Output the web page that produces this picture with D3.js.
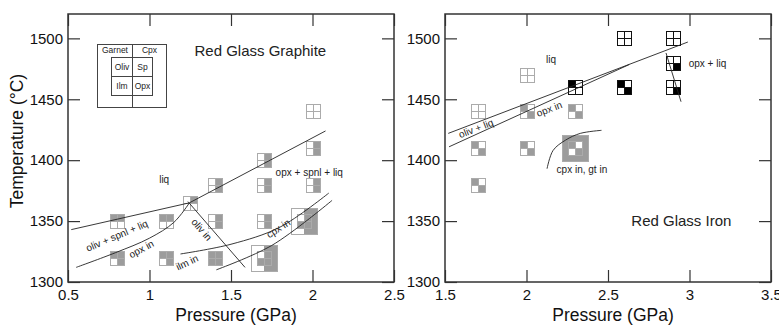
<!DOCTYPE html>
<html>
<head>
<meta charset="utf-8">
<script src="https://cdnjs.cloudflare.com/ajax/libs/d3/7.8.5/d3.min.js"></script>
<style>
  body { margin: 0; background: #fff; }
  svg { display: block; }
</style>
</head>
<body>
<svg id="chart"></svg>
<script>
// AXIS TICKS
const tempTicks = [1300, 1350, 1400, 1450, 1500]
const graphitePressureTicks = [0.5, 1, 1.5, 2, 2.5]
const ironPressureTicks = [1.5, 2, 2.5, 3, 3.5]

// RUNS: [pressure GPa, temperature C, phases present]
const graphiteRuns = [
    [0.8, 1350, 'ol sp'],
    [1.1, 1350, 'ol sp'],
    [0.8, 1320, 'ol sp opx'],
    [1.1, 1320, 'ol sp opx'],
    [1.25, 1365, 'sp'],
    [1.4, 1380, 'sp opx'],
    [1.4, 1350, 'sp opx'],
    [1.4, 1320, 'ol sp ilm opx'],
    [1.7, 1400, 'sp opx'],
    [1.7, 1380, 'sp opx'],
    [1.7, 1350, 'sp opx'],
    [1.7, 1320, 'sp ilm opx cpx'],
    [2.0, 1440, ''],
    [2.0, 1410, 'sp opx'],
    [2.0, 1380, 'sp opx'],
    [1.95, 1350, 'sp ilm opx cpx']
]
const ironRunsGray = [
    [1.7, 1440, ''],
    [2.0, 1470, ''],
    [2.0, 1440, 'ol opx'],
    [1.7, 1410, 'ol opx'],
    [2.0, 1410, 'ol opx'],
    [1.7, 1380, 'ol opx'],
    [2.3, 1440, 'ol opx'],
    [2.3, 1410, 'ol opx gt cpx']
]
const ironRunsBlack = [
    [2.3, 1460, 'ol'],
    [2.6, 1460, 'ol opx'],
    [2.6, 1500, ''],
    [2.9, 1500, ''],
    [2.9, 1480, 'opx'],
    [2.9, 1460, 'opx']
]

// PHASE BOUNDARIES
const graphiteLiqLine = [[0.52, 1343], [1.245, 1365], [2.08, 1424]]
const graphiteOpxIn = [[0.55, 1312], [0.79, 1324], [1.0, 1336], [1.15, 1349], [1.245, 1365]]
const graphiteOlivIn = [[1.236, 1366], [1.586, 1312]]
const graphiteIlmIn = [[1.19, 1323], [1.5, 1331], [1.8, 1345], [2.1, 1373]]
const graphiteCpxIn = [[1.41, 1310], [1.75, 1330], [2.12, 1367]]

const ironLiqLine = [[1.52, 1422], [2.99, 1497]]
const ironOpxIn = [[1.525, 1411], [2.63, 1478.5]]
const ironOpxLiq = [[2.856, 1488], [2.948, 1448]]
const ironCpxGtIn = [[2.126, 1393], [2.163, 1408], [2.24, 1416.5], [2.33, 1422], [2.46, 1424.5]]

// LABELS: [text, pressure, temperature, rotation]
const graphiteTitle = ['Red Glass Graphite', 1.68, 1490]
const ironTitle = ['Red Glass Iron', 2.95, 1350]
const graphiteNotes = [
    ['liq', 1.09, 1384, 0],
    ['opx + spnl + liq', 1.98, 1390, 0],
    ['oliv + spnl + liq', 0.80, 1338, -23],
    ['opx in', 0.95, 1327, -28],
    ['oliv in', 1.32, 1343, 49],
    ['ilm in', 1.23, 1316, -25],
    ['cpx in', 1.79, 1344, -33]
]
const ironNotes = [
    ['liq', 2.15, 1483, 0],
    ['oliv + liq', 1.69, 1426, -21],
    ['opx in', 2.14, 1442, -21],
    ['opx + liq', 3.11, 1479, 0],
    ['cpx in, gt in', 2.34, 1392, 0]
]

const FONT = "'Liberation Sans', Arial, Helvetica, sans-serif"
const GRAY = '#9c9c9c'
const GRAY_LINE = '#ababab'

let svg = d3.select('#chart')
    .attr('width', 779)
    .attr('height', 327)

let y = d3.scaleLinear().domain([1300, 1520]).range([282, 14])
let xGraphite = d3.scaleLinear().domain([0.5, 2.5]).range([68, 394])
let xIron = d3.scaleLinear().domain([1.5, 3.5]).range([445, 771])

function styleAxis(g) {
    g.select('.domain').remove()
    g.selectAll('line').attr('stroke', '#333').attr('stroke-width', 1.2)
    g.selectAll('text')
        .attr('font-family', FONT)
        .attr('font-size', 15)
        .attr('fill', '#111')
}

// FRAME + TICKS
function drawFrame(x, xTicks) {
    let [x0, x1] = x.range()
    let [y0, y1] = y.range()

    svg.append('g')
        .attr('transform', `translate(0,${y0})`)
        .call(d3.axisBottom(x).tickValues(xTicks).tickSize(-12).tickPadding(7).tickFormat(d => d))
        .call(styleAxis)
    svg.append('g')
        .attr('transform', `translate(0,${y1})`)
        .call(d3.axisTop(x).tickValues(xTicks).tickSize(-12).tickFormat(''))
        .call(styleAxis)
    svg.append('g')
        .attr('transform', `translate(${x0},0)`)
        .call(d3.axisLeft(y).tickValues(tempTicks).tickSize(-12).tickPadding(5).tickFormat(d => d))
        .call(styleAxis)
    svg.append('g')
        .attr('transform', `translate(${x1},0)`)
        .call(d3.axisRight(y).tickValues(tempTicks).tickSize(-12).tickFormat(''))
        .call(styleAxis)

    svg.append('rect')
        .attr('x', x0)
        .attr('y', y1)
        .attr('width', x1 - x0)
        .attr('height', y0 - y1)
        .attr('fill', 'none')
        .attr('stroke', '#333')
        .attr('stroke-width', 1.5)

    // X AXIS LABEL
    svg.append('text')
        .attr('x', (x0 + x1) / 2 + 5)
        .attr('y', 321)
        .attr('text-anchor', 'middle')
        .attr('font-family', FONT)
        .attr('font-size', 17.5)
        .attr('fill', '#111')
        .text('Pressure (GPa)')
}

// ONE RUN SYMBOL
function drawRun(g, x, run, fill, line) {
    let has = run[2].split(' ')
    let cx = Math.round(x(run[0]))
    let cy = Math.round(y(run[1]))
    let s = g.append('g')
        .attr('transform', `translate(${cx},${cy})`)
        .attr('shape-rendering', 'crispEdges')

    if (has.includes('gt') || has.includes('cpx')) {
        s.append('rect')
            .attr('x', -13).attr('y', -13).attr('width', 13).attr('height', 26)
            .attr('fill', has.includes('gt') ? fill : '#fff')
        s.append('rect')
            .attr('x', 0).attr('y', -13).attr('width', 13).attr('height', 26)
            .attr('fill', has.includes('cpx') ? fill : '#fff')
        s.append('rect')
            .attr('x', -13).attr('y', -13).attr('width', 26).attr('height', 26)
            .attr('fill', 'none')
            .attr('stroke', line)
    }

    let quads = [['ol', -7, -7], ['sp', 0, -7], ['ilm', -7, 0], ['opx', 0, 0]]
    quads.forEach(q => {
        s.append('rect')
            .attr('x', q[1]).attr('y', q[2]).attr('width', 7).attr('height', 7)
            .attr('fill', has.includes(q[0]) ? fill : '#fff')
            .attr('stroke', line)
    })
}

function drawLine(x, pts, curved) {
    let line = d3.line()
        .x(d => x(d[0]))
        .y(d => y(d[1]))
        .curve(curved ? d3.curveCatmullRom : d3.curveLinear)
    svg.append('path')
        .attr('d', line(pts))
        .attr('fill', 'none')
        .attr('stroke', '#222')
        .attr('stroke-width', 0.9)
}

function drawNotes(x, notes, size) {
    notes.forEach(n => {
        svg.append('text')
            .attr('transform', `translate(${x(n[1])},${y(n[2])}) rotate(${n[3] || 0})`)
            .attr('text-anchor', 'middle')
            .attr('dy', '0.35em')
            .attr('font-family', FONT)
            .attr('font-size', size)
            .attr('fill', '#222')
            .text(n[0])
    })
}

// LEFT PANEL - GRAPHITE
drawFrame(xGraphite, graphitePressureTicks)
let gLeft = svg.append('g')
graphiteRuns.forEach(r => drawRun(gLeft, xGraphite, r, GRAY, GRAY_LINE))
drawLine(xGraphite, graphiteLiqLine, false)
drawLine(xGraphite, graphiteOpxIn, true)
drawLine(xGraphite, graphiteOlivIn, false)
drawLine(xGraphite, graphiteIlmIn, true)
drawLine(xGraphite, graphiteCpxIn, true)
drawNotes(xGraphite, graphiteNotes, 10)
drawNotes(xGraphite, [graphiteTitle], 15)

// Y AXIS LABEL
svg.append('text')
    .attr('transform', 'translate(23,141) rotate(-90)')
    .attr('text-anchor', 'middle')
    .attr('font-family', FONT)
    .attr('font-size', 17.5)
    .attr('fill', '#111')
    .text('Temperature (°C)')

// LEGEND
let legend = svg.append('g')
    .attr('shape-rendering', 'crispEdges')
    .attr('stroke', '#444')
    .attr('fill', 'none')
legend.append('rect').attr('x', 97.5).attr('y', 44.5).attr('width', 69).attr('height', 63)
legend.append('rect').attr('x', 111.5).attr('y', 57.5).attr('width', 41).attr('height', 38)
legend.append('line').attr('x1', 132.5).attr('x2', 132.5).attr('y1', 44.5).attr('y2', 107.5)
legend.append('line').attr('x1', 111.5).attr('x2', 152.5).attr('y1', 76.5).attr('y2', 76.5)
let legendText = [['Garnet', 115, 50.5], ['Cpx', 149.5, 50.5], ['Oliv', 122, 67], ['Sp', 142.5, 67], ['Ilm', 122, 86], ['Opx', 142.5, 86]]
legendText.forEach(t => {
    svg.append('text')
        .attr('x', t[1])
        .attr('y', t[2])
        .attr('dy', '0.35em')
        .attr('text-anchor', 'middle')
        .attr('font-family', FONT)
        .attr('font-size', 8.5)
        .attr('fill', '#222')
        .text(t[0])
})

// RIGHT PANEL - IRON
drawFrame(xIron, ironPressureTicks)
let gRight = svg.append('g')
ironRunsGray.forEach(r => drawRun(gRight, xIron, r, GRAY, GRAY_LINE))
ironRunsBlack.forEach(r => drawRun(gRight, xIron, r, '#000', '#111'))
drawLine(xIron, ironLiqLine, false)
drawLine(xIron, ironOpxIn, false)
drawLine(xIron, ironOpxLiq, false)
drawLine(xIron, ironCpxGtIn, true)
drawNotes(xIron, ironNotes, 10)
drawNotes(xIron, [ironTitle], 15)
</script>
</body>
</html>
